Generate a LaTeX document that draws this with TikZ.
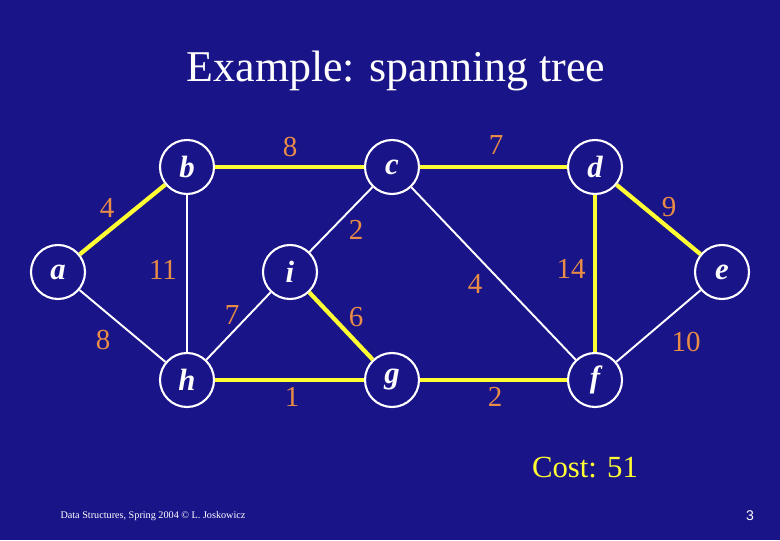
\documentclass[tikz,border=0pt]{standalone}
\usepackage{fontspec}
\setmainfont{Liberation Serif}
\newfontfamily\pagesans{Liberation Sans}
\usepackage{xcolor}
\usepackage{tikz}
\definecolor{slideblue}{HTML}{1A1489}
\definecolor{weightorange}{HTML}{E88C46}
\definecolor{treeyellow}{HTML}{FFFF33}

\begin{document}
\begin{tikzpicture}[
  vertex/.style={circle, draw=white, line width=1.2pt, fill=slideblue, minimum size=1.08cm,
    inner sep=0pt, text=white, font=\fontsize{17.5}{18}\selectfont\bfseries\itshape},
  edge/.style={draw=white, line width=1.1pt},
  tree/.style={draw=treeyellow, line width=2.4pt},
  weight/.style={text=weightorange, font=\fontsize{16.5}{17}\selectfont, inner sep=0pt},
]
  \fill[slideblue] (0,0) rectangle (15.6,10.8);
  \node[text=white, font=\fontsize{25}{30}\selectfont] (title) at (7.92,9.38) {Example: spanning tree};

  \node[vertex] (a) at (1.16,5.36) {a};
  \node[vertex] (b) at (3.74,7.46) {b};
  \node[vertex] (c) at (7.84,7.46) {c};
  \node[vertex] (d) at (11.90,7.46) {d};
  \node[vertex] (e) at (14.44,5.36) {e};
  \node[vertex] (f) at (11.90,3.20) {f};
  \node[vertex] (g) at (7.84,3.20) {g};
  \node[vertex] (h) at (3.74,3.20) {h};
  \node[vertex] (i) at (5.80,5.36) {i};

  \draw[tree] (a) -- node[weight, shift={(-0.31,0.23)}] {4} (b);
  \draw[edge] (a) -- node[weight, shift={(-0.39,-0.28)}] {8} (h);
  \draw[tree] (b) -- node[weight, shift={(0.01,0.40)}] {8} (c);
  \draw[edge] (b) -- node[weight, shift={(-0.48,0.07)}] {11} (h);
  \draw[edge] (h) -- node[weight, shift={(-0.13,0.22)}] {7} (i);
  \draw[tree] (h) -- node[weight, shift={(0.05,-0.34)}] {1} (g);
  \draw[edge] (i) -- node[weight, shift={(0.30,-0.21)}] {2} (c);
  \draw[tree] (i) -- node[weight, shift={(0.30,0.18)}] {6} (g);
  \draw[tree] (c) -- node[weight, shift={(0.05,0.44)}] {7} (d);
  \draw[edge] (c) -- node[weight, shift={(-0.37,-0.21)}] {4} (f);
  \draw[tree] (g) -- node[weight, shift={(0.03,-0.34)}] {2} (f);
  \draw[tree] (d) -- node[weight, shift={(-0.48,0.09)}] {14} (f);
  \draw[tree] (d) -- node[weight, shift={(0.21,0.25)}] {9} (e);
  \draw[edge] (e) -- node[weight, shift={(0.55,-0.32)}] {10} (f);

  \node[text=treeyellow, font=\fontsize{17.5}{20}\selectfont] (cost) at (11.7,1.44) {Cost: 51};
  \node[text=white, font=\fontsize{5.8}{6}\selectfont] (footer) at (3.06,0.48) {Data Structures, Spring 2004 \textcopyright{} L. Joskowicz};
  \node[text=white, font=\pagesans\fontsize{8}{9}\selectfont] (pageno) at (15.0,0.48) {3};
\end{tikzpicture}
\end{document}
